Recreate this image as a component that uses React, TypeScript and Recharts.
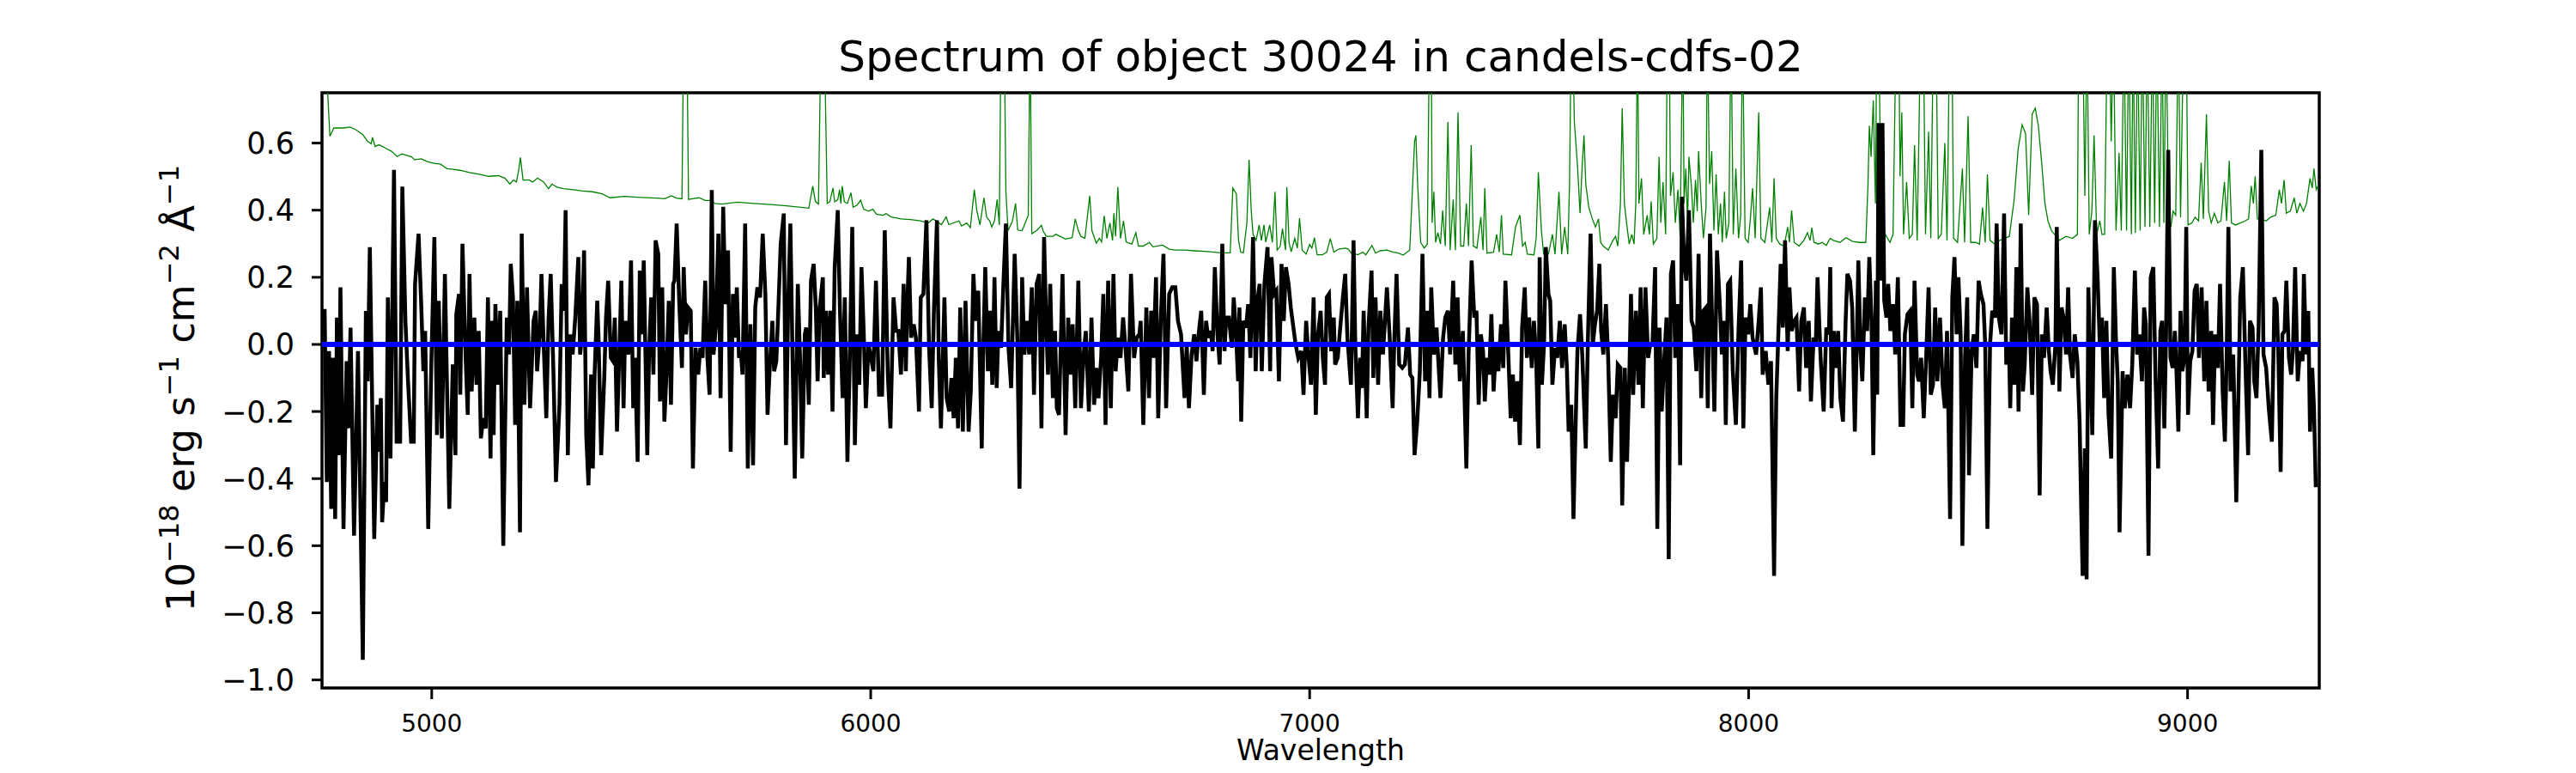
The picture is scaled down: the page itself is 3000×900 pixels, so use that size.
import { LineChart, Line, XAxis, YAxis, ReferenceLine, ReferenceArea } from "recharts";

const X_TICKS = [5000, 6000, 7000, 8000, 9000];
const Y_TICKS = [-1.0, -0.8, -0.6, -0.4, -0.2, 0.0, 0.2, 0.4, 0.6];
const X_RANGE = [4750, 9300];
const Y_RANGE = [-1.024, 0.75];

const TITLE = "Spectrum of object 30024 in candels-cdfs-02";
const X_LABEL = "Wavelength";

// flux, [wavelength (Å), 1e-18 erg/s/cm2/Å]
const FLUX_A = [
  [4751,0.10],[4756,0.10],[4761,-0.41],[4766,-0.02],[4771,-0.49],[4775,-0.04],[4780,-0.52],[4784,0.08],[4788,-0.33],[4792,0.17],
  [4799,-0.55],[4806,-0.05],[4810,-0.25],[4815,0.05],[4823,-0.57],[4832,-0.02],[4843,-0.94],[4850,0.10],[4854,-0.11],[4859,0.29],
  [4869,-0.58],[4876,-0.18],[4880,-0.32],[4884,-0.16],[4887,-0.53],[4892,-0.41],[4896,-0.47],[4900,0.14],[4906,-0.34],[4914,0.52],
  [4920,-0.29],[4928,-0.29],[4933,0.47],[4940,0.07],[4946,-0.11],[4953,-0.29],[4959,-0.29],[4962,0.18],[4970,0.33],[4976,0.12],
  [4981,-0.08],[4985,0.04],[4992,-0.55],[4999,-0.06],[5006,0.32],[5012,-0.27],[5016,0.13],[5023,-0.28],[5030,0.21],[5040,-0.49],
  [5048,-0.06],[5054,-0.33],[5056,0.09],[5062,0.15],[5065,-0.15],[5070,0.30],[5077,-0.03],[5082,-0.21],[5086,0.21],[5091,-0.14],
  [5097,0.08],[5102,-0.12],[5107,0.04],[5112,-0.28],[5117,-0.22],[5123,-0.25],[5128,0.14],[5134,-0.34],[5137,0.07],[5141,-0.27],
  [5145,0.12],[5151,-0.12],[5156,0.10],[5163,-0.60],[5171,0.08],[5176,-0.03],[5180,0.24],[5185,0.14],[5190,-0.24],[5195,0.13],
  [5201,-0.56],[5205,0.33],[5211,-0.18],[5217,0.17],[5224,-0.19],[5232,0.07],[5237,0.10],[5240,-0.08],[5246,0.03],[5250,0.21],
  [5255,0.00],[5261,-0.22],[5266,0.07],[5271,0.21],[5277,-0.07],[5283,-0.41],[5291,-0.18],[5296,0.18],[5301,0.10],[5305,0.40],
  [5310,-0.33],[5316,0.03],[5321,-0.03],[5327,0.08],[5334,0.26],[5338,-0.03],[5342,0.02],[5347,0.28],[5352,-0.27],[5357,-0.42],
  [5363,-0.09],[5367,-0.37],[5371,-0.09],[5377,0.13],[5380,0.02],[5386,-0.33],[5393,-0.10],[5397,0.08],[5402,0.19],[5408,-0.04],
  [5413,-0.05],[5417,0.08],[5422,-0.26],[5427,-0.04],[5432,0.19],[5437,-0.19],[5441,0.07],[5448,-0.03],[5454,0.25],[5459,-0.19],
  [5463,-0.04],[5469,-0.35],[5474,0.22],[5478,0.03],[5483,0.25],[5491,-0.33],[5495,-0.03],[5500,0.14],[5505,-0.09],[5510,0.31],
  [5516,0.27],[5520,-0.17],[5525,0.17],[5530,-0.23],[5535,-0.08],[5540,0.13],[5545,-0.18],[5550,0.18],[5553,0.19],[5558,0.36],
  [5564,0.12],[5570,-0.07],[5574,0.23],[5579,0.03],[5584,0.11],[5590,0.10],[5595,-0.37],[5601,-0.01],[5607,-0.09],[5612,-0.01],
  [5617,-0.04],[5623,0.19],[5628,-0.04],[5633,-0.15],[5638,0.46],[5642,-0.03],[5647,0.05],[5653,0.33],[5658,-0.16],[5664,0.41],
  [5669,0.12],[5675,0.28],[5681,-0.32],[5686,0.15],[5691,0.02],[5695,0.17],[5700,-0.04],[5704,-0.02],[5708,-0.09],[5714,0.36],
  [5720,-0.37],[5726,0.06],[5732,-0.36],[5737,0.11],[5742,0.17],[5748,0.14],[5754,0.33],[5760,0.15],[5765,-0.21],[5770,-0.07],
  [5776,0.07],[5780,-0.08],[5785,-0.05],[5790,0.12],[5795,0.30],[5802,0.39],[5807,-0.30],[5812,0.12],[5817,0.36],[5822,-0.04],
  [5827,-0.40],[5834,0.18],[5839,-0.04],[5844,-0.34],[5850,0.03],[5853,0.05],[5859,-0.18],[5864,0.19],[5870,0.24],[5875,0.11],
  [5879,-0.11],[5884,0.11],
];

const FLUX_B = [
  [5891,0.20],[5893,-0.10],[5898,0.10],[5903,-0.09],[5908,0.10],[5913,-0.20],[5918,0.23],[5925,0.40],[5930,0.10],[5936,-0.16],
  [5941,0.14],[5947,-0.35],[5952,-0.07],[5958,0.35],[5964,-0.30],[5969,0.03],[5974,-0.12],[5979,0.23],[5984,0.04],[5989,-0.19],
  [5995,0.00],[6001,-0.04],[6006,-0.08],[6012,0.19],[6019,-0.15],[6026,-0.15],[6032,0.34],[6039,-0.09],[6045,-0.25],[6052,0.14],
  [6058,0.04],[6063,0.04],[6069,-0.09],[6075,0.18],[6080,-0.08],[6083,0.10],[6087,0.26],[6092,0.02],[6098,0.06],[6103,0.02],
  [6110,-0.20],[6114,0.14],[6120,0.15],[6127,0.37],[6133,-0.01],[6139,-0.19],[6144,0.10],[6151,0.37],[6155,-0.04],[6160,-0.25],
  [6168,0.14],[6173,-0.16],[6179,-0.20],[6184,-0.10],[6189,-0.22],[6194,-0.04],[6199,-0.25],[6204,0.11],[6210,-0.26],[6216,0.13],
  [6223,-0.26],[6228,-0.14],[6234,0.21],[6239,0.07],[6245,0.16],[6253,-0.31],[6256,-0.04],[6261,0.23],[6267,-0.08],[6272,0.10],
  [6277,-0.12],[6282,0.20],[6287,-0.13],[6291,0.04],[6297,-0.01],[6302,0.17],[6308,0.36],[6314,-0.01],[6320,-0.13],[6328,0.27],
  [6334,0.02],[6339,-0.43],[6345,0.20],[6350,-0.03],[6356,0.07],[6361,-0.03],[6367,0.17],[6372,-0.15],[6378,0.18],[6384,0.21],
  [6389,-0.25],[6395,0.32],[6400,0.05],[6404,-0.09],[6409,0.18],[6415,-0.16],[6420,0.04],[6424,-0.19],[6429,-0.21],[6437,0.21],
  [6444,-0.27],[6450,0.08],[6455,-0.09],[6460,0.06],[6466,-0.19],[6473,0.19],[6479,-0.19],[6485,-0.03],[6490,0.04],[6497,-0.20],
  [6503,0.08],[6509,-0.18],[6514,-0.07],[6519,-0.16],[6525,-0.04],[6530,0.15],[6535,-0.24],[6541,0.19],[6547,-0.19],[6553,0.21],
  [6558,-0.08],[6563,0.02],[6569,-0.04],[6575,0.08],[6581,-0.02],[6587,-0.14],[6593,0.21],[6600,-0.04],[6606,0.02],[6612,0.03],
  [6615,0.07],[6621,-0.24],[6628,0.11],[6634,-0.16],[6639,0.10],[6644,-0.04],[6650,0.20],[6655,-0.22],[6661,0.08],[6667,0.27],
  [6673,-0.19],[6680,0.15],[6687,0.17],[6694,0.17],[6700,0.07],[6707,0.03],[6715,-0.16],[6720,0.00],[6725,-0.19],[6731,-0.03],
  [6737,0.03],[6742,-0.05],[6747,0.03],[6753,0.10],[6759,-0.15],[6764,0.07],[6769,0.02],[6775,0.04],[6779,-0.02],[6784,0.23],
  [6790,0.03],[6795,-0.06],[6801,0.30],[6806,-0.02],[6810,0.08],[6816,0.08],[6823,-0.01],[6827,0.14],[6832,0.04],[6837,-0.11],
  [6840,0.11],[6844,-0.23],[6849,0.07],[6855,0.05],[6860,0.12],[6865,-0.04],[6871,0.32],[6877,-0.08],[6882,0.14],[6886,0.18],
  [6891,-0.08],[6897,0.18],[6904,0.29],[6910,-0.08],[6913,0.26],[6919,0.15],[6924,0.16],[6930,-0.11],[6936,0.24],[6941,0.07],
  [6946,0.23],[6952,0.18],[6957,0.11],[6963,0.05],[6968,0.00],[6974,-0.04],[6981,-0.02],[6986,-0.15],[6992,0.07],[6997,-0.03],
  [7003,-0.12],[7009,0.14],[7014,-0.21],[7019,0.03],[7025,0.10],[7030,-0.04],[7035,-0.12],[7039,0.14],
];

const FLUX_C = [
  [7044,0.15],[7049,-0.02],[7055,0.08],[7058,-0.06],[7064,-0.04],[7069,0.04],[7075,0.13],[7081,0.21],[7086,0.02],[7094,-0.12],
  [7100,0.31],[7104,0.00],[7110,-0.22],[7115,-0.04],[7119,-0.13],[7123,0.10],[7130,-0.22],[7134,0.05],[7141,0.22],[7145,-0.10],
  [7150,0.14],[7156,-0.12],[7161,0.10],[7167,-0.03],[7176,0.17],[7182,0.03],[7189,-0.19],[7193,0.02],[7198,0.21],[7204,-0.06],
  [7211,-0.07],[7217,-0.06],[7224,0.05],[7229,-0.09],[7234,-0.10],[7239,-0.33],[7245,-0.23],[7251,-0.08],[7257,0.27],[7263,-0.11],
  [7268,0.10],[7273,-0.16],[7277,0.17],[7283,-0.03],[7289,0.05],[7294,-0.07],[7298,-0.16],[7304,0.02],[7309,0.08],[7315,0.10],
  [7320,-0.03],[7327,0.19],[7332,-0.06],[7337,0.14],[7342,-0.11],[7349,0.04],[7357,-0.37],[7362,-0.03],[7369,0.25],[7375,0.08],
  [7380,0.10],[7385,-0.18],[7390,0.03],[7395,-0.02],[7399,-0.17],[7404,-0.04],[7409,-0.09],[7414,0.09],[7419,-0.14],[7425,0.00],
  [7430,-0.08],[7436,0.06],[7441,-0.07],[7446,0.19],[7452,-0.01],[7458,-0.22],[7463,-0.09],[7468,-0.23],[7473,-0.11],[7479,-0.30],
  [7484,0.05],[7490,0.17],[7495,-0.04],[7500,0.08],[7506,-0.07],[7511,0.07],[7516,-0.04],[7521,-0.31],[7524,0.26],[7529,-0.12],
  [7534,0.00],[7538,0.29],[7544,0.15],[7548,0.13],[7553,-0.12],[7559,-0.01],[7564,-0.04],[7570,0.07],[7575,-0.07],[7581,0.06],
  [7586,-0.07],[7590,-0.26],[7596,-0.18],[7601,-0.52],[7605,-0.29],[7610,-0.02],[7616,0.09],[7621,-0.03],[7629,-0.31],[7634,0.02],
  [7640,0.33],[7645,0.00],[7650,0.06],[7655,0.10],[7660,0.24],[7664,0.04],[7669,-0.03],[7675,0.12],[7680,-0.04],[7686,-0.35],
  [7691,-0.15],[7697,-0.22],[7702,-0.06],[7708,-0.07],[7712,-0.48],[7718,-0.07],[7723,-0.35],[7728,-0.11],[7732,0.15],[7737,-0.15],
  [7743,0.10],[7749,-0.12],[7754,0.17],[7759,-0.19],[7765,0.17],[7771,-0.04],[7776,0.00],[7781,0.00],[7787,0.23],[7792,-0.55],
  [7797,0.05],[7802,-0.20],[7808,-0.04],[7813,0.08],[7818,-0.64],[7823,0.21],[7828,0.25],[7833,-0.04],[7839,0.12],[7844,-0.36],
  [7848,0.44],[7853,0.25],[7858,0.19],[7864,0.40],[7870,0.07],[7875,0.05],[7881,-0.08],[7886,0.27],[7892,-0.16],[7897,0.10],
  [7903,0.11],[7907,-0.19],[7912,0.33],[7917,0.06],[7922,-0.20],[7928,0.28],[7934,0.13],[7939,-0.03],[7944,0.07],[7948,-0.24],
  [7953,0.18],[7958,0.19],[7964,-0.08],[7971,-0.24],[7977,0.04],[7983,0.25],[7988,-0.25],[7993,0.08],[7999,0.03],[8004,0.12],
  [8009,0.02],[8017,-0.03],[8023,0.07],[8028,0.17],[8032,-0.09],[8039,-0.02],[8045,-0.12],[8051,-0.05],[8058,-0.69],[8063,-0.16],
  [8068,0.04],[8073,0.24],[8078,0.05],[8083,0.31],[8089,-0.02],[8093,0.17],[8098,0.04],[8104,0.07],[8109,0.08],[8115,-0.14],
  [8120,0.07],[8126,0.11],[8131,-0.07],[8137,0.07],[8142,-0.17],[8148,0.02],[8153,0.00],[8157,0.20],[8164,-0.04],[8171,-0.20],
  [8177,0.05],[8183,0.03],
];

const FLUX_D = [
  [8186,0.23],[8189,-0.19],[8194,0.04],[8199,-0.07],[8204,0.04],[8209,-0.16],[8215,-0.23],[8221,0.07],[8225,0.21],[8231,0.19],
  [8236,0.11],[8242,-0.26],[8246,-0.02],[8250,0.25],[8255,-0.02],[8259,-0.11],[8265,0.14],[8270,0.04],[8275,0.26],[8280,0.07],
  [8284,-0.33],[8290,0.19],[8293,-0.15],[8296,0.66],[8300,0.19],[8305,0.66],[8309,0.13],[8314,0.08],[8318,0.18],[8323,0.04],
  [8329,0.12],[8334,-0.03],[8340,0.20],[8346,-0.24],[8352,-0.24],[8356,0.03],[8362,0.09],[8368,0.10],[8373,-0.19],[8378,0.19],
  [8384,-0.09],[8388,-0.11],[8393,-0.04],[8399,-0.22],[8405,-0.02],[8410,0.17],[8415,-0.15],[8420,-0.12],[8425,0.11],[8430,-0.11],
  [8436,0.08],[8442,-0.12],[8447,-0.19],[8452,0.04],[8459,-0.52],[8464,0.14],[8469,0.26],[8474,0.03],[8478,0.20],[8483,0.03],
  [8487,-0.60],[8493,-0.04],[8498,0.14],[8502,-0.39],[8508,-0.02],[8513,0.03],[8519,-0.07],[8524,0.19],[8529,0.15],[8535,0.12],
  [8539,0.00],[8544,-0.55],[8550,0.00],[8555,0.10],[8561,0.08],[8565,0.36],[8570,0.08],[8576,0.03],[8582,0.39],[8587,-0.06],
  [8593,0.00],[8596,-0.19],[8600,0.08],[8605,-0.12],[8610,0.23],[8615,-0.20],[8620,0.36],[8625,-0.14],[8629,-0.06],[8635,0.17],
  [8640,0.07],[8646,-0.15],[8651,0.14],[8657,0.12],[8663,-0.45],[8668,0.03],[8673,-0.04],[8679,0.11],[8684,-0.02],[8688,-0.08],
  [8693,-0.12],[8699,0.00],[8702,0.35],[8708,-0.14],[8713,0.11],[8719,0.07],[8723,-0.03],[8728,0.17],[8732,-0.03],[8738,-0.10],
  [8743,0.03],[8749,-0.05],[8754,-0.23],[8758,-0.51],[8761,-0.69],[8766,-0.31],[8770,-0.70],[8774,0.17],[8778,-0.03],[8783,-0.27],
  [8789,0.37],[8795,0.20],[8800,0.00],[8805,0.08],[8810,-0.16],[8815,0.07],[8820,-0.21],[8826,-0.34],[8832,0.23],[8837,0.01],
  [8841,-0.11],[8845,-0.56],[8852,-0.08],[8857,-0.19],[8863,-0.09],[8869,-0.19],[8874,-0.06],[8880,0.22],[8885,-0.03],[8890,0.03],
  [8896,-0.11],[8901,0.11],[8905,0.06],[8911,-0.63],[8916,0.20],[8922,0.23],[8927,-0.10],[8933,-0.37],[8938,0.04],[8942,0.07],
  [8947,-0.25],[8951,0.03],[8956,0.58],[8961,-0.04],[8966,-0.07],[8971,0.04],[8975,-0.09],[8979,-0.26],[8984,0.10],[8988,-0.08],
  [8993,-0.04],[8997,0.35],[9001,-0.21],[9006,-0.05],[9011,-0.02],[9016,0.16],[9021,0.18],[9026,-0.04],[9032,0.17],[9038,-0.11],
  [9043,0.13],[9048,-0.14],[9054,0.04],[9058,-0.24],[9063,0.03],[9069,-0.07],[9074,0.18],[9080,-0.14],[9085,-0.29],[9089,-0.04],
  [9093,0.35],[9098,-0.14],[9104,-0.03],[9111,-0.47],[9117,-0.07],[9120,0.14],[9126,0.23],[9132,-0.07],[9138,-0.33],[9142,0.07],
  [9148,0.05],[9152,-0.11],[9157,-0.16],[9162,0.06],[9168,0.58],[9173,-0.03],[9179,-0.07],[9185,-0.19],[9192,-0.29],[9198,0.14],
  [9203,0.12],[9207,-0.04],[9212,-0.38],[9216,0.03],[9221,0.04],[9225,0.19],[9231,-0.04],[9236,-0.09],[9240,-0.02],[9245,0.23],
  [9251,-0.11],[9256,-0.02],[9262,-0.05],[9265,0.21],[9270,-0.03],[9275,0.10],[9279,-0.26],[9284,-0.07],[9288,-0.19],[9292,-0.42],
  [9297,-0.42],
];

// error spectrum (green), sky lines run off the top
const NOISE_A = [
  [4751,0.95],[4761,0.80],[4768,0.62],[4777,0.645],[4799,0.645],[4814,0.648],[4827,0.64],[4843,0.625],[4854,0.605],[4862,0.598],
  [4865,0.617],[4871,0.59],[4880,0.595],[4895,0.585],[4909,0.575],[4921,0.56],[4932,0.568],[4954,0.559],[4961,0.55],[4976,0.553],
  [4990,0.545],[5005,0.54],[5020,0.537],[5035,0.524],[5049,0.522],[5064,0.519],[5086,0.512],[5108,0.507],[5130,0.501],[5152,0.503],
  [5167,0.495],[5178,0.478],[5186,0.49],[5193,0.484],[5198,0.519],[5202,0.557],[5208,0.49],[5222,0.49],[5230,0.484],[5241,0.496],
  [5255,0.484],[5266,0.464],[5274,0.478],[5285,0.469],[5300,0.464],[5322,0.461],[5344,0.457],[5366,0.455],[5388,0.449],[5406,0.437],
  [5439,0.441],[5476,0.438],[5513,0.436],[5531,0.434],[5546,0.443],[5557,0.436],[5570,0.434],[5574,0.95],[5581,0.95],[5585,0.432],
  [5594,0.434],[5609,0.437],[5623,0.429],[5634,0.429],[5645,0.42],[5660,0.418],[5697,0.424],[5734,0.42],[5771,0.417],[5808,0.413],
  [5859,0.406],[5868,0.472],[5874,0.426],[5881,0.418],[5887,0.95],
];

const NOISE_B = [
  [5894,0.95],[5901,0.420],[5907,0.425],[5914,0.466],[5918,0.425],[5925,0.431],[5929,0.461],[5932,0.420],[5935,0.472],[5940,0.425],
  [5947,0.420],[5955,0.452],[5960,0.409],[5969,0.415],[5977,0.43],[5984,0.403],[5995,0.397],[6005,0.403],[6013,0.388],[6028,0.385],
  [6035,0.39],[6047,0.380],[6069,0.374],[6091,0.372],[6113,0.368],[6131,0.362],[6142,0.374],[6161,0.357],[6172,0.380],[6178,0.357],
  [6201,0.368],[6207,0.353],[6219,0.362],[6227,0.348],[6236,0.461],[6242,0.397],[6249,0.356],[6258,0.437],[6264,0.380],[6271,0.368],
  [6276,0.350],[6282,0.368],[6288,0.432],[6293,0.356],[6297,0.95],[6304,0.95],[6308,0.455],[6313,0.339],[6323,0.368],[6330,0.420],
  [6335,0.341],[6345,0.339],[6352,0.362],[6359,0.385],[6363,0.95],[6367,0.330],[6378,0.339],[6389,0.355],[6393,0.337],[6400,0.322],
  [6415,0.322],[6422,0.328],[6444,0.314],[6459,0.318],[6466,0.374],[6473,0.339],[6479,0.322],[6488,0.316],[6499,0.443],[6504,0.339],
  [6514,0.302],[6521,0.316],[6526,0.305],[6532,0.383],[6538,0.316],[6545,0.362],[6551,0.310],[6554,0.391],[6558,0.322],[6563,0.469],
  [6569,0.316],[6576,0.368],[6582,0.305],[6595,0.299],[6604,0.333],[6610,0.293],[6621,0.293],[6635,0.304],[6643,0.291],[6665,0.296],
  [6680,0.284],[6694,0.281],[6716,0.281],[6738,0.279],[6768,0.277],[6797,0.273],[6819,0.273],[6825,0.466],[6833,0.449],[6838,0.310],
  [6843,0.275],[6849,0.273],[6857,0.362],[6862,0.550],[6867,0.397],[6871,0.328],[6878,0.310],[6885,0.356],[6890,0.310],[6896,0.356],
  [6900,0.305],[6909,0.356],[6915,0.304],[6921,0.455],[6926,0.281],[6933,0.293],[6938,0.345],[6945,0.281],[6948,0.469],[6953,0.304],
  [6958,0.276],[6966,0.316],[6972,0.287],[6977,0.376],[6983,0.281],[6992,0.269],[7000,0.298],[7005,0.287],[7011,0.318],[7017,0.267],
  [7029,0.267],[7039,0.275],
];

const NOISE_C = [
  [7047,0.316],[7055,0.275],[7066,0.284],[7081,0.287],[7088,0.284],[7095,0.272],[7110,0.267],[7121,0.275],[7128,0.267],[7142,0.295],
  [7150,0.272],[7161,0.279],[7176,0.281],[7191,0.275],[7202,0.272],[7213,0.266],[7228,0.281],[7239,0.605],[7242,0.623],[7246,0.478],
  [7250,0.374],[7253,0.304],[7261,0.287],[7268,0.299],[7273,0.95],[7277,0.95],[7279,0.362],[7283,0.455],[7287,0.304],[7292,0.333],
  [7298,0.299],[7303,0.399],[7309,0.293],[7315,0.663],[7320,0.281],[7327,0.432],[7332,0.281],[7338,0.692],[7344,0.293],[7351,0.293],
  [7357,0.420],[7362,0.293],[7368,0.594],[7373,0.293],[7381,0.287],[7390,0.380],[7395,0.281],[7399,0.466],[7404,0.272],[7419,0.275],
  [7426,0.328],[7432,0.275],[7437,0.385],[7441,0.269],[7460,0.267],[7469,0.350],[7474,0.368],[7479,0.385],[7485,0.293],[7491,0.304],
  [7496,0.269],[7511,0.267],[7516,0.316],[7521,0.513],[7528,0.339],[7533,0.269],[7544,0.269],[7553,0.328],[7559,0.269],[7568,0.455],
  [7574,0.269],[7581,0.350],[7588,0.269],[7592,0.478],[7596,0.95],[7599,0.95],[7603,0.663],[7610,0.536],[7616,0.391],[7621,0.536],
  [7625,0.623],[7629,0.478],[7636,0.408],[7644,0.374],[7651,0.350],[7658,0.374],[7663,0.304],[7669,0.293],[7680,0.281],[7691,0.310],
  [7697,0.322],[7702,0.293],[7708,0.420],[7712,0.704],[7717,0.420],[7722,0.362],[7728,0.299],[7734,0.328],[7739,0.299],[7743,0.420],
  [7747,0.95],[7750,0.420],[7756,0.495],[7761,0.328],[7769,0.385],[7774,0.328],[7778,0.426],[7783,0.299],[7791,0.316],[7796,0.559],
  [7800,0.362],[7805,0.484],[7811,0.328],[7815,0.95],[7819,0.95],[7822,0.443],[7828,0.513],[7833,0.362],[7839,0.461],[7844,0.322],
  [7850,0.95],[7853,0.420],[7857,0.524],[7861,0.362],[7864,0.559],[7870,0.466],[7874,0.362],[7879,0.490],[7883,0.397],[7886,0.576],
  [7892,0.420],[7897,0.316],[7903,0.408],[7906,0.95],[7911,0.478],[7916,0.576],[7921,0.339],[7926,0.507],[7931,0.328],[7936,0.420],
  [7940,0.304],[7945,0.455],[7949,0.316],[7955,0.362],[7960,0.95],[7965,0.328],[7971,0.524],[7977,0.316],[7982,0.385],[7986,0.95],
  [7992,0.316],[7999,0.304],[8004,0.374],[8009,0.466],[8015,0.316],[8023,0.692],[8028,0.316],[8037,0.304],[8048,0.408],[8053,0.304],
  [8058,0.495],[8063,0.316],[8071,0.299],[8081,0.293],[8089,0.350],[8093,0.304],[8098,0.399],[8104,0.304],[8115,0.293],[8126,0.310],
  [8134,0.333],[8140,0.310],[8144,0.348],[8149,0.304],[8159,0.299],[8168,0.304],[8177,0.295],[8183,0.310],
];

const NOISE_D = [
  [8186,0.316],[8193,0.310],[8208,0.304],[8222,0.318],[8237,0.307],[8252,0.304],[8267,0.304],[8272,0.478],[8275,0.652],[8279,0.559],
  [8284,0.727],[8289,0.420],[8292,0.95],[8296,0.95],[8300,0.594],[8307,0.339],[8314,0.322],[8322,0.304],[8329,0.328],[8336,0.95],
  [8342,0.95],[8345,0.501],[8349,0.692],[8353,0.328],[8360,0.484],[8366,0.316],[8373,0.328],[8378,0.594],[8384,0.310],[8392,0.95],
  [8398,0.95],[8403,0.328],[8410,0.634],[8415,0.316],[8421,0.95],[8427,0.95],[8432,0.316],[8439,0.328],[8447,0.600],[8452,0.310],
  [8458,0.95],[8463,0.95],[8467,0.316],[8476,0.304],[8487,0.524],[8492,0.304],[8500,0.680],[8506,0.304],[8517,0.304],[8526,0.299],
  [8533,0.408],[8539,0.304],[8544,0.507],[8550,0.310],[8561,0.299],[8572,0.310],[8583,0.316],[8594,0.322],[8605,0.432],[8614,0.582],
  [8623,0.655],[8631,0.628],[8638,0.385],[8646,0.686],[8653,0.704],[8660,0.652],[8668,0.536],[8675,0.420],[8682,0.368],[8690,0.339],
  [8697,0.328],[8708,0.310],[8723,0.322],[8738,0.316],[8749,0.328],[8752,0.95],[8761,0.95],[8766,0.443],[8771,0.95],[8776,0.328],
  [8782,0.397],[8787,0.623],[8793,0.328],[8800,0.368],[8805,0.328],[8811,0.328],[8817,0.95],[8822,0.95],[8826,0.605],[8831,0.95],
  [8837,0.339],[8844,0.571],[8849,0.339],[8855,0.95],[8861,0.339],[8866,0.95],[8872,0.328],[8876,0.95],[8881,0.333],[8886,0.95],
  [8892,0.339],[8897,0.95],[8903,0.350],[8908,0.95],[8914,0.350],[8920,0.95],[8925,0.362],[8930,0.95],[8936,0.350],[8942,0.95],
  [8946,0.362],[8951,0.95],[8957,0.368],[8962,0.350],[8967,0.397],[8973,0.385],[8979,0.95],[8984,0.379],[8991,0.95],[8997,0.95],
  [9001,0.356],[9010,0.362],[9017,0.379],[9025,0.368],[9031,0.542],[9036,0.374],[9043,0.686],[9048,0.397],[9054,0.362],[9061,0.391],
  [9069,0.362],[9076,0.368],[9084,0.484],[9089,0.368],[9095,0.547],[9100,0.362],[9109,0.356],[9120,0.362],[9131,0.368],[9139,0.374],
  [9145,0.472],[9150,0.420],[9154,0.501],[9159,0.374],[9168,0.374],[9179,0.368],[9190,0.380],[9201,0.385],[9209,0.461],[9214,0.420],
  [9220,0.490],[9225,0.391],[9234,0.397],[9243,0.437],[9249,0.391],[9256,0.420],[9264,0.397],[9271,0.420],[9279,0.495],[9284,0.466],
  [9288,0.524],[9293,0.461],[9297,0.472],
];

const toRows = (pairs: number[][]) => pairs.map(([w, f]) => ({ w, f }));
const flux = toRows([...FLUX_A, ...FLUX_B, ...FLUX_C, ...FLUX_D]);
const noise = toRows([...NOISE_A, ...NOISE_B, ...NOISE_C, ...NOISE_D]);

const FONT = "DejaVu Sans";
const W = 3000;
const H = 900;

const fmtY = (v: number) => (v < -1e-9 ? "\u2212" : "") + Math.abs(v).toFixed(1);

export default function App() {
  return (
    <div style={{ position: "absolute", left: 0, top: 0, width: W, height: H, background: "#fff" }}>
      <LineChart width={W} height={H} margin={{ top: 108, right: 299, bottom: 0, left: 0 }}>
        <XAxis
          type="number"
          dataKey="w"
          domain={X_RANGE}
          allowDataOverflow
          ticks={X_TICKS}
          interval={0}
          height={99}
          axisLine={false}
          tickSize={13}
          tickMargin={18}
          tickLine={{ stroke: "#000", strokeWidth: 3 }}
          tick={{ fill: "#000", fontSize: 28, fontFamily: FONT }}
        />
        <YAxis
          type="number"
          domain={Y_RANGE}
          allowDataOverflow
          ticks={Y_TICKS}
          interval={0}
          width={375}
          axisLine={false}
          tickSize={12}
          tickMargin={20}
          tickFormatter={fmtY}
          tickLine={{ stroke: "#000", strokeWidth: 3 }}
          tick={{ fill: "#000", fontSize: 35, fontFamily: FONT }}
        />
        <Line data={noise} dataKey="f" stroke="#008000" strokeWidth={1.3} dot={false} isAnimationActive={false} />
        <Line data={flux} dataKey="f" stroke="#000" strokeWidth={4.5} dot={false} isAnimationActive={false} strokeLinejoin="miter" />
        <ReferenceLine y={0} stroke="#0000ff" strokeWidth={6} />
        <ReferenceArea
          x1={X_RANGE[0]}
          x2={X_RANGE[1]}
          y1={Y_RANGE[0]}
          y2={Y_RANGE[1]}
          fill="none"
          fillOpacity={0}
          stroke="#000"
          strokeWidth={3.5}
          ifOverflow="visible"
        />
      </LineChart>
      <svg width={W} height={H} style={{ position: "absolute", left: 0, top: 0, pointerEvents: "none" }}>
        <text x={1538} y={83} textAnchor="middle" fontSize={50} fontFamily={FONT} fill="#000">
          {TITLE}
        </text>
        <text x={1538} y={885} textAnchor="middle" fontSize={33} fontFamily={FONT} fill="#000">
          {X_LABEL}
        </text>
        <text
          x={226}
          y={452}
          textAnchor="middle"
          fontSize={45}
          fontFamily={FONT}
          fill="#000"
          transform="rotate(-90 226 452)"
        >
          <tspan>10</tspan>
          <tspan fontSize={32} dy={-18}>{"\u221218"}</tspan>
          <tspan dy={18}>{" erg s"}</tspan>
          <tspan fontSize={32} dy={-18}>{"\u22121"}</tspan>
          <tspan dy={18}>{" cm"}</tspan>
          <tspan fontSize={32} dy={-18}>{"\u22122"}</tspan>
          <tspan dy={18}>{" \u00c5"}</tspan>
          <tspan fontSize={32} dy={-18}>{"\u22121"}</tspan>
        </text>
      </svg>
    </div>
  );
}
